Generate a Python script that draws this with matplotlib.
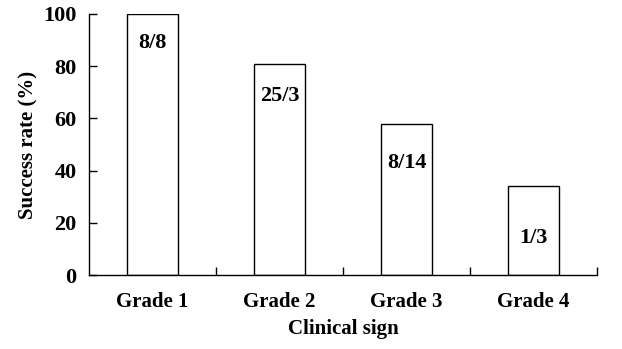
import matplotlib
matplotlib.use('Agg')
import matplotlib.pyplot as plt

# Success rate by clinical grade
grades = ['Grade 1', 'Grade 2', 'Grade 3', 'Grade 4']
success_rate = [100, 81, 57.7, 34]
counts = ['8/8', '25/3', '8/14', '1/3']
label_y = [89, 68.5, 43, 14]

plt.rcParams['font.family'] = ['Liberation Serif', 'DejaVu Serif']
plt.rcParams['font.weight'] = 'bold'

fig = plt.figure(figsize=(6.22, 3.49), dpi=100)
ax = fig.add_axes([0.143, 0.212, 0.817, 0.748])

x = range(len(grades))
ax.bar(x, success_rate, width=0.4, color='white', edgecolor='black', linewidth=1)

for xi, txt, ly in zip(x, counts, label_y):
    ax.text(xi, ly, txt, ha='center', va='center', fontsize=16, fontweight='bold')

ax.set_xlim(-0.5, len(grades) - 0.5)
ax.set_ylim(0, 100)
ax.set_yticks([0, 20, 40, 60, 80, 100])
ax.set_xticks(list(x))
ax.set_xticklabels(grades, fontsize=15, fontweight='bold')
ax.set_xticks([i + 0.5 for i in x], minor=True)
ax.tick_params(axis='x', which='major', length=0, pad=12)
ax.tick_params(axis='x', which='minor', direction='in', length=6, width=1)
ax.tick_params(axis='y', direction='in', length=6, width=1, labelsize=16, pad=9)
for lab in ax.get_yticklabels():
    lab.set_fontweight('bold')

ax.spines['top'].set_visible(False)
ax.spines['right'].set_visible(False)
ax.spines['left'].set_linewidth(1)
ax.spines['bottom'].set_linewidth(1)

ax.set_ylabel('Success rate (%)', fontsize=15, fontweight='bold', labelpad=3)
ax.set_xlabel('Clinical sign', fontsize=15, fontweight='bold', labelpad=5)

fig.savefig('out.png', dpi=100)
